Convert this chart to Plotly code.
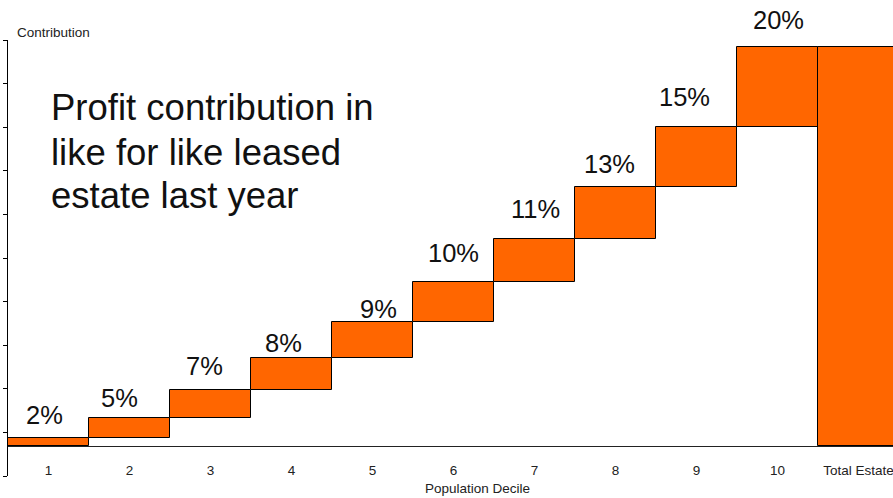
import numpy as np
import plotly.graph_objects as go

# Share of profit contributed by each population decile (percent)
deciles = ["1", "2", "3", "4", "5", "6", "7", "8", "9", "10"]
contribution = [2, 5, 7, 8, 9, 10, 11, 13, 15, 20]
total_label = "Total Estate"

headline_lines = ["Profit contribution in", "like for like leased", "estate last year"]

# hand placement tweaks for the percentage labels (pixels: right, down)
label_nudge_x = [-4, -10, -6, -8, 6, 0, 1, -6, -12, 1]
label_nudge_y = [4, 7, 3, 12, 14, -2, -3, 4, -3, 0]

categories = deciles + [total_label]
measures = ["relative"] * len(deciles) + ["total"]
values = contribution + [0]
tops = np.cumsum(contribution)

ORANGE = "#FF6600"
W, H = 893, 498
ML, MR, MT, MB = 8, 0, 40, 22

# value axis: ten equal tick intervals spanning a little below zero to just over the total
y_lo, y_hi = -7.52, 101.75
dtick = (y_hi - y_lo) / 10
plot_h = H - MT - MB
plot_w = W - ML - MR


def paper_y(px):
    return (H - MB - px) / plot_h


def paper_x(px):
    return (px - ML) / plot_w


fig = go.Figure(
    go.Waterfall(
        x=categories,
        y=values,
        measure=measures,
        increasing=dict(marker=dict(color=ORANGE, line=dict(color="#000000", width=1))),
        totals=dict(marker=dict(color=ORANGE, line=dict(color="#000000", width=1))),
        connector=dict(visible=False),
        width=[1.0] * len(categories),
        hoverinfo="x+y",
    )
)

annotations = []
# category positions are addressed by index so numeric-looking names are not misread
for idx, (v, top) in enumerate(zip(contribution, tops)):
    annotations.append(
        dict(
            x=idx, y=float(top), xref="x", yref="y",
            text=f"{v}%", showarrow=False,
            yanchor="bottom",
            xshift=label_nudge_x[idx], yshift=11 - label_nudge_y[idx],
            font=dict(family="Liberation Sans, Arial, sans-serif", size=25.5, color="#111111"),
        )
    )

for i, line in enumerate(headline_lines):
    annotations.append(
        dict(
            x=paper_x(49), y=paper_y(108 + 44 * i), xref="paper", yref="paper",
            text=line, showarrow=False, xanchor="left", yanchor="middle",
            font=dict(family="Liberation Sans, Arial, sans-serif", size=36.5, color="#111111"),
        )
    )

annotations.append(
    dict(
        x=paper_x(15), y=paper_y(32), xref="paper", yref="paper",
        text="Contribution", showarrow=False, xanchor="left", yanchor="middle",
        font=dict(family="Liberation Sans, Arial, sans-serif", size=13.5, color="#222222"),
    )
)
annotations.append(
    dict(
        x=paper_x(477.5), y=paper_y(488), xref="paper", yref="paper",
        text="Population Decile", showarrow=False, xanchor="center", yanchor="middle",
        font=dict(family="Liberation Sans, Arial, sans-serif", size=13.5, color="#222222"),
    )
)

fig.update_layout(
    width=W, height=H,
    margin=dict(l=ML, r=MR, t=MT, b=MB, pad=0),
    paper_bgcolor="white", plot_bgcolor="white",
    showlegend=False,
    waterfallgap=0,
    annotations=annotations,
    font=dict(family="Liberation Sans, Arial, sans-serif", color="#222222"),
    xaxis=dict(
        type="category",
        range=[-0.5, -0.5 + plot_w / 81.0],
        anchor="free",
        position=(0 - y_lo) / (y_hi - y_lo),
        showline=True, linecolor="#222222", linewidth=1,
        ticks="outside", ticklen=12, tickcolor="rgba(0,0,0,0)",
        tickfont=dict(size=13.5, color="#222222"),
        showgrid=False, zeroline=False,
        layer="below traces",
    ),
    yaxis=dict(
        range=[y_lo, y_hi],
        tick0=y_lo, dtick=dtick,
        showline=True, linecolor="#000000", linewidth=1,
        ticks="outside", ticklen=4, tickcolor="#000000",
        showticklabels=False,
        showgrid=False, zeroline=False,
    ),
)

fig.write_html("out.html")
